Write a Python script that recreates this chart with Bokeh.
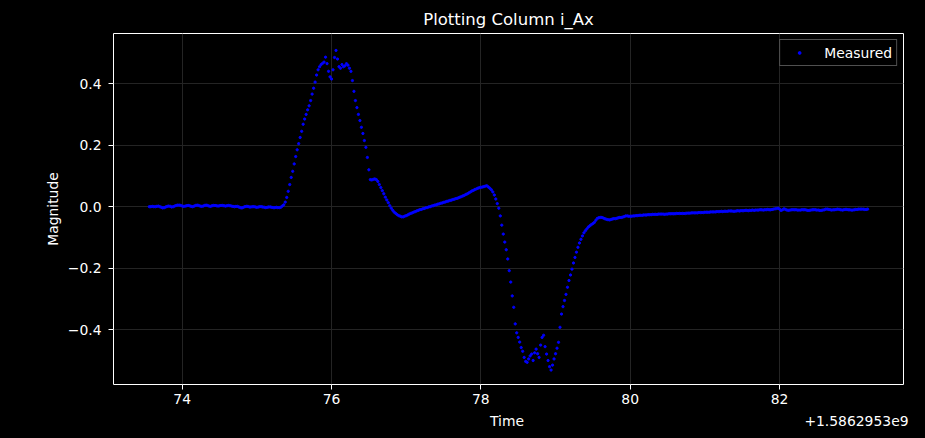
import numpy as np
from bokeh.plotting import figure
from bokeh.models import ColumnDataSource, FixedTicker, LinearAxis, Range1d, CustomJSTickFormatter
from bokeh.embed import file_html
from bokeh.resources import INLINE

# time axis is shown relative to this offset (matplotlib-style offset text)
time_offset_text = "+1.5862953e9"
time_start = 73.56        # seconds after offset
sample_period = 0.02      # seconds between samples

# i_Ax samples, one row = 0.2 s
i_ax = [
    0.000, 0.000, 0.001, 0.000, 0.000, 0.001, 0.002, 0.000, -0.002, -0.004,
    -0.003, -0.001, 0.001, 0.002, 0.001, -0.001, 0.000, 0.002, 0.004, 0.005,
    0.005, 0.004, 0.002, 0.001, 0.002, 0.003, 0.004, 0.003, 0.001, 0.000,
    0.002, 0.004, 0.005, 0.004, 0.002, 0.001, 0.002, 0.004, 0.005, 0.004,
    0.002, 0.001, 0.003, 0.004, 0.004, 0.003, 0.002, 0.003, 0.004, 0.004,
    0.003, 0.002, 0.003, 0.004, 0.003, 0.002, 0.001, 0.000, 0.001, 0.001,
    -0.001, -0.003, -0.004, -0.002, 0.000, 0.001, 0.001, -0.001, -0.001, 0.000,
    0.000, -0.001, -0.002, -0.001, 0.000, 0.000, -0.001, -0.002, -0.003, -0.002,
    -0.001, -0.001, -0.002, -0.003, -0.003, -0.002, -0.003, -0.003, -0.002, 0.002,
    0.006, 0.015, 0.030, 0.050, 0.072, 0.095, 0.115, 0.139, 0.163, 0.185,
    0.205, 0.225, 0.245, 0.268, 0.285, 0.300, 0.315, 0.328, 0.345, 0.366,
    0.385, 0.405, 0.428, 0.445, 0.455, 0.462, 0.466, 0.470, 0.486, 0.465,
    0.440, 0.422, 0.415, 0.445, 0.485, 0.508, 0.480, 0.455, 0.450, 0.462,
    0.455, 0.458, 0.465, 0.460, 0.450, 0.440, 0.410, 0.375, 0.345, 0.322,
    0.300, 0.280, 0.258, 0.238, 0.215, 0.193, 0.160, 0.120, 0.088, 0.087,
    0.089, 0.090, 0.088, 0.082, 0.072, 0.062, 0.052, 0.042, 0.031, 0.022,
    0.013, 0.003, -0.005, -0.012, -0.018, -0.022, -0.026, -0.029, -0.031, -0.033,
    -0.033, -0.031, -0.029, -0.027, -0.024, -0.022, -0.020, -0.018, -0.016, -0.014,
    -0.012, -0.010, -0.009, -0.007, -0.006, -0.004, -0.003, -0.001, 0.000, 0.002,
    0.003, 0.005, 0.006, 0.008, 0.009, 0.011, 0.012, 0.014, 0.015, 0.017,
    0.018, 0.020, 0.021, 0.023, 0.024, 0.026, 0.027, 0.029, 0.031, 0.033,
    0.035, 0.037, 0.040, 0.042, 0.045, 0.048, 0.051, 0.053, 0.056, 0.058,
    0.060, 0.062, 0.063, 0.064, 0.065, 0.067, 0.068, 0.064, 0.060, 0.055,
    0.048, 0.038, 0.025, 0.010, -0.005, -0.030, -0.060, -0.089, -0.115, -0.140,
    -0.170, -0.208, -0.245, -0.290, -0.327, -0.381, -0.410, -0.425, -0.440, -0.458,
    -0.470, -0.490, -0.503, -0.506, -0.495, -0.485, -0.479, -0.500, -0.475, -0.463,
    -0.478, -0.490, -0.450, -0.425, -0.418, -0.455, -0.479, -0.500, -0.520, -0.531,
    -0.515, -0.495, -0.478, -0.460, -0.441, -0.392, -0.349, -0.325, -0.305, -0.285,
    -0.262, -0.240, -0.222, -0.203, -0.183, -0.165, -0.148, -0.132, -0.118, -0.106,
    -0.095, -0.085, -0.078, -0.072, -0.066, -0.062, -0.058, -0.055, -0.051, -0.044,
    -0.038, -0.036, -0.035, -0.035, -0.037, -0.039, -0.041, -0.042, -0.043, -0.042,
    -0.040, -0.039, -0.039, -0.038, -0.036, -0.035, -0.035, -0.034, -0.032, -0.030,
    -0.030, -0.031, -0.031, -0.031, -0.030, -0.030, -0.029, -0.029, -0.028, -0.028,
    -0.028, -0.027, -0.027, -0.027, -0.026, -0.026, -0.026, -0.025, -0.025, -0.025,
    -0.025, -0.024, -0.024, -0.024, -0.024, -0.025, -0.024, -0.024, -0.023, -0.023,
    -0.023, -0.023, -0.023, -0.022, -0.022, -0.022, -0.022, -0.022, -0.022, -0.022,
    -0.021, -0.021, -0.021, -0.020, -0.020, -0.020, -0.020, -0.020, -0.019, -0.019,
    -0.019, -0.019, -0.018, -0.018, -0.018, -0.018, -0.017, -0.017, -0.017, -0.017,
    -0.016, -0.016, -0.016, -0.015, -0.016, -0.015, -0.015, -0.015, -0.014, -0.014,
    -0.014, -0.015, -0.015, -0.014, -0.013, -0.014, -0.013, -0.013, -0.013, -0.012,
    -0.012, -0.013, -0.012, -0.012, -0.011, -0.012, -0.011, -0.011, -0.011, -0.010,
    -0.010, -0.011, -0.010, -0.010, -0.009, -0.010, -0.010, -0.009, -0.008, -0.007,
    -0.006, -0.005, -0.008, -0.012, -0.010, -0.007, -0.009, -0.011, -0.012, -0.011,
    -0.010, -0.010, -0.010, -0.010, -0.011, -0.011, -0.011, -0.010, -0.010, -0.010,
    -0.011, -0.012, -0.012, -0.011, -0.010, -0.010, -0.010, -0.011, -0.011, -0.012,
    -0.012, -0.011, -0.010, -0.008, -0.008, -0.009, -0.010, -0.011, -0.010, -0.010,
    -0.009, -0.008, -0.009, -0.010, -0.011, -0.010, -0.009, -0.009, -0.010, -0.010,
    -0.011, -0.011, -0.010, -0.009, -0.009, -0.008, -0.008, -0.008, -0.008, -0.009,
    -0.009, -0.008,
]
time = time_start + sample_period * np.arange(len(i_ax))

x_ticks = [74, 76, 78, 80, 82]
y_ticks = [-0.4, -0.2, 0.0, 0.2, 0.4]

FONT = "DejaVu Sans"

p = figure(
    width=925, height=438,
    title="Plotting Column i_Ax",
    x_range=Range1d(73.08, 83.66),
    y_range=Range1d(-0.578, 0.563),
    toolbar_location=None,
    output_backend="svg",
    min_border_left=113, min_border_right=22,
    min_border_top=33, min_border_bottom=54,
)
p.background_fill_color = "black"
p.border_fill_color = "black"
p.outline_line_color = "white"
p.outline_line_width = 1

p.title.align = "center"
p.title.text_color = "white"
p.title.text_font = FONT
p.title.text_font_size = "16.5px"
p.title.text_font_style = "normal"

source = ColumnDataSource(data={"x": time, "y": i_ax})
p.scatter("x", "y", source=source, size=2.3, color="blue", legend_label="Measured")

p.xaxis.ticker = FixedTicker(ticks=x_ticks)
p.yaxis.ticker = FixedTicker(ticks=y_ticks)
p.yaxis.formatter = CustomJSTickFormatter(code="return tick.toFixed(1).replace('-', '\u2212');")
p.yaxis.axis_label = "Magnitude"

for ax in (p.xaxis[0], p.yaxis[0]):
    ax.axis_line_color = None
    ax.major_tick_line_color = "white"
    ax.major_tick_out = 5
    ax.major_tick_in = 0
    ax.minor_tick_line_color = None
    ax.major_label_text_color = "white"
    ax.major_label_text_font = FONT
    ax.major_label_text_font_size = "13.9px"
    ax.axis_label_text_color = "white"
    ax.axis_label_text_font = FONT
    ax.axis_label_text_font_size = "13.9px"
    ax.axis_label_text_font_style = "normal"
p.xaxis.major_label_standoff = 4
p.yaxis.major_label_standoff = 7
p.yaxis.axis_label_standoff = 4

# second row under the x tick labels: "Time" in the middle and the offset text at the right
time_label_at = 78.35
offset_label_at = 83.03
label_axis = LinearAxis(
    ticker=FixedTicker(ticks=[time_label_at, offset_label_at]),
    major_label_overrides={time_label_at: "Time", offset_label_at: time_offset_text},
    axis_line_color=None, major_tick_line_color=None, minor_tick_line_color=None,
    major_tick_out=0, major_tick_in=0, major_label_standoff=6,
    major_label_text_color="white", major_label_text_font=FONT,
    major_label_text_font_size="13.9px",
)
p.add_layout(label_axis, "below")

p.grid.grid_line_color = "#242424"
p.grid.grid_line_width = 1

p.legend.location = "top_right"
p.legend.margin = 6
p.legend.padding = 4
p.legend.label_height = 17
p.legend.glyph_width = 30
p.legend.glyph_height = 7
p.legend.label_standoff = 10
p.legend.label_text_color = "white"
p.legend.label_text_font = FONT
p.legend.label_text_font_size = "13.9px"
p.legend.background_fill_color = "black"
p.legend.background_fill_alpha = 0.8
p.legend.border_line_color = "#a0a0a0"
p.legend.border_line_width = 1

html = file_html(p, INLINE)
html = html.replace("</head>", "<style>body{background:#000;}</style></head>", 1)
open("out.html", "w").write(html)
